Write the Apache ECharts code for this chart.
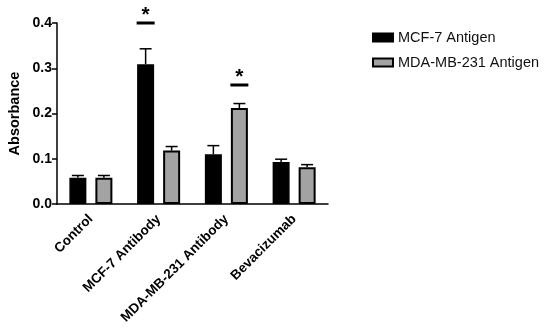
<!DOCTYPE html>
<html><head><meta charset="utf-8">
<script src="https://cdn.jsdelivr.net/npm/echarts@6/dist/echarts.min.js"></script>
<style>html,body{margin:0;padding:0;background:#fff}#c{width:550px;height:335px}</style>
</head><body><div id="c"></div>
<script>
var categories = ['Control', 'MCF-7 Antibody', 'MDA-MB-231 Antibody', 'Bevacizumab'];
var seriesNames = ['MCF-7 Antigen', 'MDA-MB-231 Antigen'];
var mcf7Values = [0.058, 0.309, 0.110, 0.093];
var mcf7Errors = [0.005, 0.034, 0.019, 0.006];
var mdaValues = [0.058, 0.118, 0.212, 0.081];
var mdaErrors = [0.005, 0.009, 0.010, 0.006];
var yTicks = [0, 0.1, 0.2, 0.3, 0.4];
// significance markers: [category index, series index, bar level]
var sigCategory = [1, 2];
var sigSeries = [0, 1];
var sigLevel = [0.400, 0.263];

var FONT = 'Liberation Sans, Arial, sans-serif';
var BAR_W = 17, OFFSET = 13;

function errData(vals, errs) {
  return vals.map(function (v, i) { return [i, v, errs[i]]; });
}
function errRender(off) {
  return function (params, api) {
    var i = api.value(0), v = api.value(1), e = api.value(2);
    var top = api.coord([i, v + e]);
    var base = api.coord([i, v]);
    var x = top[0] + off;
    return {
      type: 'group',
      children: [
        {type: 'line', shape: {x1: x, y1: base[1], x2: x, y2: top[1]}, style: {stroke: '#000', lineWidth: 1.5}},
        {type: 'line', shape: {x1: x - 6, y1: top[1], x2: x + 6, y2: top[1]}, style: {stroke: '#000', lineWidth: 1.5}}
      ]
    };
  };
}
var sigData = sigCategory.map(function (c, k) { return [c, sigLevel[k], sigSeries[k]]; });

var chart = echarts.init(document.getElementById('c'));
chart.setOption({
  animation: false,
  textStyle: {fontFamily: FONT},
  grid: {left: 57, right: 222, top: 23, bottom: 131},
  legend: {
    orient: 'vertical', left: 367, top: 25, itemWidth: 20, itemHeight: 8, itemGap: 10,
    icon: 'rect',
    textStyle: {fontFamily: FONT, fontSize: 14.5, color: '#111'},
    data: seriesNames
  },
  xAxis: {
    type: 'category', data: categories,
    axisLine: {lineStyle: {color: '#000', width: 1.5}},
    axisTick: {alignWithLabel: true, length: 5, lineStyle: {color: '#000', width: 1.5}},
    axisLabel: {rotate: 45, interval: 0, margin: 13, color: '#000', fontWeight: 'bold', fontSize: 13.5, fontFamily: FONT}
  },
  yAxis: {
    type: 'value', min: 0, max: 0.4, interval: 0.1,
    name: 'Absorbance', nameLocation: 'middle', nameGap: 35,
    nameTextStyle: {color: '#000', fontWeight: 'bold', fontSize: 14.5, fontFamily: FONT},
    axisLine: {show: true, lineStyle: {color: '#000', width: 1.5}},
    axisTick: {show: true, length: 5, lineStyle: {color: '#000', width: 1.5}},
    splitLine: {show: false},
    axisLabel: {color: '#000', fontWeight: 'bold', fontSize: 14, margin: 5, fontFamily: FONT,
      formatter: function (v) { return v.toFixed(1); }}
  },
  series: [
    {name: seriesNames[0], type: 'bar', data: mcf7Values, barWidth: BAR_W, barGap: '53%',
      itemStyle: {color: '#000', borderColor: '#000', borderWidth: 1.5}},
    {name: seriesNames[1], type: 'bar', data: mdaValues, barWidth: BAR_W,
      itemStyle: {color: '#a3a3a3', borderColor: '#000', borderWidth: 2}},
    {type: 'custom', data: errData(mcf7Values, mcf7Errors), renderItem: errRender(-OFFSET), z: 3,
      encode: {x: 0, y: [1]}, silent: true},
    {type: 'custom', data: errData(mdaValues, mdaErrors), renderItem: errRender(OFFSET), z: 3,
      encode: {x: 0, y: [1]}, silent: true},
    {type: 'custom', data: sigData, z: 4, silent: true, encode: {x: 0, y: 1},
      renderItem: function (params, api) {
        var p = api.coord([api.value(0), api.value(1)]);
        var x = p[0] + (api.value(2) === 0 ? -OFFSET : OFFSET);
        return {type: 'group', children: [
          {type: 'line', shape: {x1: x - 9, y1: p[1], x2: x + 9, y2: p[1]}, style: {stroke: '#000', lineWidth: 3}},
          {type: 'text', x: x, y: p[1] + 3, style: {text: '*', fill: '#000', font: 'bold 21px ' + FONT, align: 'center', verticalAlign: 'bottom'}}
        ]};
      }}
  ]
});
</script></body></html>
